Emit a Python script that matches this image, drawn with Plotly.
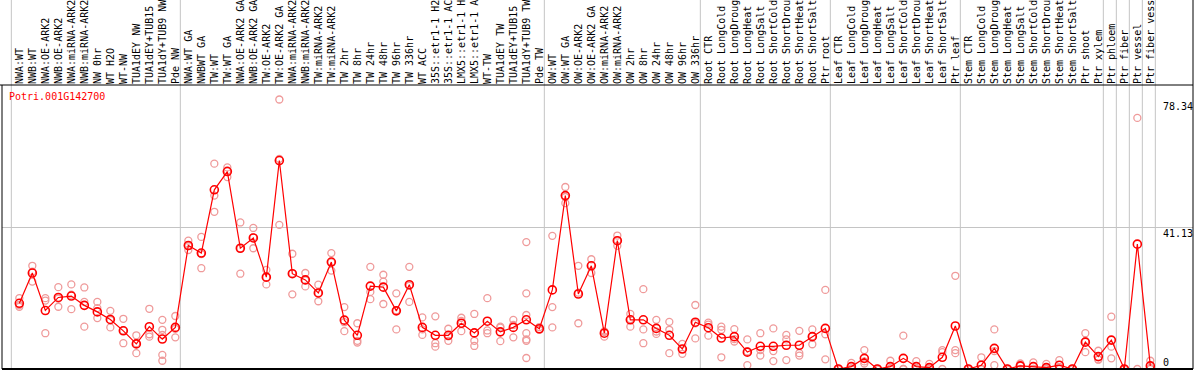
import plotly.graph_objects as go

labels = [
    "NWA:WT", "NWB:WT", "NWA:OE-ARK2", "NWB:OE-ARK2", "NWA:miRNA-ARK2", "NWB:miRNA-ARK2",
    "NW 0hr", "WT H2O", "WT-NW", "TUA1dEY NW", "TUA1dEY+TUB15 NW", "TUA1dY+TUB9 NW", "Pde NW",
    "NWA:WT GA", "NWBWT GA", "TW:WT", "TW:WT GA", "NWA:OE-ARK2 GA", "NWB:OE-ARK2 GA",
    "TW:OE-ARK2", "TW:OE-ARK2 GA", "NWA:miRNA-ARK2", "NWB:miRNA-ARK2", "TW:miRNA-ARK2",
    "TW:miRNA-ARK2", "TW 2hr", "TW 8hr", "TW 24hr", "TW 48hr", "TW 96hr", "TW 336hr",
    "WT ACC", "35S::etr1-1 H2O", "35S::etr1-1 ACC", "LMX5::etr1-1 H2O", "LMX5::etr1-1 ACC",
    "WT-TW", "TUA1dEY TW", "TUA1dEY+TUB15 TW", "TUA1dY+TUB9 TW", "Pde TW",
    "OW:WT", "OW:WT GA", "OW:OE-ARK2", "OW:OE-ARK2 GA", "OW:miRNA-ARK2", "OW:miRNA-ARK2",
    "OW 2hr", "OW 8hr", "OW 24hr", "OW 48hr", "OW 96hr", "OW 336hr",
    "Root CTR", "Root LongCold", "Root LongDrought", "Root LongHeat", "Root LongSalt",
    "Root ShortCold", "Root ShortDrought", "Root ShortHeat", "Root ShortSalt", "Ptr root",
    "Leaf CTR", "Leaf LongCold", "Leaf LongDrought", "Leaf LongHeat", "Leaf LongSalt",
    "Leaf ShortCold", "Leaf ShortDrought", "Leaf ShortHeat", "Leaf ShortSalt", "Ptr leaf",
    "Stem CTR", "Stem LongCold", "Stem LongDrought", "Stem LongHeat", "Stem LongSalt",
    "Stem ShortCold", "Stem ShortDrought", "Stem ShortHeat", "Stem ShortSalt", "Ptr shoot",
    "Ptr xylem", "Ptr phloem", "Ptr fiber", "Ptr vessel", "Ptr fiber vessel",
]

means = [
    19.1, 27.9, 17.0, 20.8, 21.2, 18.5, 16.6, 14.4, 11.1, 7.3, 12.3, 8.7, 12.1,
    35.9, 33.7, 52.1, 57.4, 35.1, 38.1, 26.7, 60.6, 27.7, 25.9, 22.1, 31.1, 14.2,
    9.8, 24.1, 23.8, 16.9, 24.5, 12.1, 9.8, 9.8, 13.3, 10.5, 13.9, 10.8, 12.1, 14.3, 11.7,
    23.0, 50.4, 21.8, 30.0, 10.4, 37.3, 14.3, 14.3, 11.8, 9.8, 5.8, 13.6,
    12.0, 9.0, 9.4, 4.9, 6.6, 6.6, 6.9, 6.9, 9.4, 11.8,
    0.0, 0.7, 3.1, 0.0, 0.7, 3.1, 0.7, 0.4, 3.4, 12.5,
    0.0, 1.1, 6.0, 0.0, 0.9, 0.7, 0.4, 1.1, 0.0, 7.8,
    3.6, 8.4, 0.0, 36.3, 0.9,
]

rep1 = [
    20.6, 30.0, 20.6, 23.8, 24.6, 23.7, 19.5, 16.9, 14.6, 9.8, 17.5, 14.3, 15.4,
    37.3, 38.4, 59.7, 58.6, 42.6, 41.0, 28.8, 78.34, 33.5, 27.9, 24.5, 33.7, 18.0,
    13.3, 29.7, 27.4, 22.0, 29.7, 15.0, 15.3, 11.7, 14.9, 16.0, 20.6, 12.3, 14.3, 36.9, 12.2,
    38.7, 52.9, 30.0, 31.9, 10.9, 38.8, 16.0, 23.2, 14.3, 13.7, 7.3, 18.6,
    13.5, 12.3, 11.6, 8.6, 10.4, 11.8, 9.9, 11.1, 11.5, 23.0,
    0.0, 1.8, 5.5, 0.0, 2.4, 9.7, 2.3, 1.5, 5.5, 27.1,
    0.0, 3.4, 11.5, 0.0, 1.6, 1.9, 1.5, 2.6, 0.0, 10.4,
    5.3, 15.2, 0.0, 73.0, 2.4,
]

rep2 = [
    18.6, 25.4, 19.9, 18.1, 17.4, 19.5, 17.7, 12.1, 7.5, 4.6, 10.1, 11.4, 9.2,
    34.6, 29.3, 50.4, 55.8, 27.7, 35.1, 24.6, 41.9, 21.7, 24.0, 19.7, 28.6, 11.0,
    8.2, 20.3, 25.4, 11.5, 19.5, 9.9, 7.5, 8.2, 11.0, 8.2, 11.2, 8.1, 9.2, 22.0, 11.4,
    18.0, 48.2, 13.3, 27.9, 9.4, 35.8, 12.3, 11.5, 10.9, 11.4, 4.4, 8.9,
    9.7, 11.4, 8.0, 1.1, 3.9, 5.2, 8.6, 4.6, 7.2, 10.1,
    0.0, 0.2, 1.6, 0.0, 0.0, 0.0, 0.0, 0.0, 4.9, 5.5,
    0.0, 0.0, 5.2, 0.0, 0.9, 0.0, 0.0, 0.5, 0.0, 4.9,
    2.8, 6.5, 0.0, 0.0, 0.3,
]

rep3 = [
    18.1, 28.3, 10.4, 20.5, 21.6, 12.3, 14.8, 14.2, 11.2, 7.5, 9.4, 9.9, 11.7,
    35.8, 33.4, 45.7, 57.7, 35.1, 38.3, 26.7, 61.1, 27.8, 25.8, 22.1, 31.0, 13.6,
    7.7, 22.4, 18.9, 17.1, 24.2, 11.5, 6.5, 9.5, 14.0, 6.7, 10.4, 12.0, 12.8, 15.7, 11.5,
    12.1, 50.0, 22.2, 30.2, 10.8, 37.3, 14.5, 7.5, 10.2, 4.6, 5.8, 13.3,
    12.9, 3.4, 8.7, 5.1, 5.5, 2.3, 2.6, 3.9, 9.5, 2.8,
    0.0, 0.0, 2.2, 0.0, 0.0, 0.0, 0.0, 0.0, 0.0, 4.6,
    0.0, 0.0, 1.1, 0.0, 0.0, 0.0, 0.0, 0.0, 0.0, 8.1,
    2.7, 3.1, 0.0, None, 0.0,
]

# additional replicates for samples with more than three measurements
extra_rep_index = [11, 11, 39, 39, 39, 39]
extra_rep_value = [4.1, 2.4, 10.4, 8.6, 8.2, 3.2]

group_ends = [-1, 12, 40, 52, 62, 72, 83, 84, 85, 86, 87]

y_ticks = [78.34, 41.13, 0]
title_text = "Potri.001G142700"

# ---------------- figure ----------------
W, H = 1194, 370
ML, MR, MT, MB = 2, 1, 85, 1
PW, PH = W - ML - MR, H - MT - MB
STEP = 13.0
FIRST_PX = 19.33
x_min = -(FIRST_PX - ML) / STEP
x_max = x_min + PW / STEP
Y_SCALE = 3.44
y_max = PH / Y_SCALE

xs = list(range(len(labels)))
mono = "DejaVu Sans Mono, Liberation Mono, monospace"
rep_color = "#ef9a9a"

fig = go.Figure()

rep_x, rep_y = [], []
for arr in (rep1, rep2, rep3):
    for i, v in enumerate(arr):
        if v is not None:
            rep_x.append(i)
            rep_y.append(v)
rep_x += extra_rep_index
rep_y += extra_rep_value

fig.add_trace(go.Scatter(
    x=rep_x, y=rep_y, mode="markers",
    marker=dict(symbol="circle-open", size=7, color=rep_color, line=dict(width=1.3, color=rep_color)),
    hoverinfo="skip", showlegend=False, cliponaxis=True,
))
fig.add_trace(go.Scatter(
    x=xs, y=means, mode="lines+markers",
    line=dict(color="#ff0000", width=1.2),
    marker=dict(symbol="circle-open", size=8, color="#ff0000", line=dict(width=1.6, color="#ff0000")),
    showlegend=False, cliponaxis=True,
))

shapes = []
top_paper = 1 + (MT + 2) / PH
for g in group_ends:
    gx = g + 0.5 - 1.5 / STEP
    shapes.append(dict(type="line", xref="x", yref="paper", x0=gx, x1=gx, y0=0, y1=top_paper,
                       line=dict(color="#c4c4c4", width=1), layer="below"))
# header separator line
shapes.append(dict(type="line", xref="paper", yref="paper", x0=-ML / PW, x1=1, y0=1, y1=1,
                   line=dict(color="black", width=1)))
# left border of plot
shapes.append(dict(type="line", xref="paper", yref="paper", x0=0, x1=0, y0=0, y1=1,
                   line=dict(color="black", width=1)))
# right border (full height)
shapes.append(dict(type="line", xref="paper", yref="paper", x0=1, x1=1, y0=0, y1=top_paper,
                   line=dict(color="black", width=1)))
# bottom border
shapes.append(dict(type="line", xref="paper", yref="paper", x0=0, x1=1, y0=0, y1=0,
                   line=dict(color="black", width=2)))

label_x_paper = (1161 - ML) / PW
y_shifts = {78.34: -7, 41.13: -5.5, 0: 7}
annotations = []
for t in y_ticks:
    annotations.append(dict(
        x=label_x_paper, xref="paper", y=t, yref="y", xanchor="left", yanchor="middle",
        yshift=y_shifts[t], text=("%g" % t), showarrow=False,
        font=dict(family=mono, size=10, color="black"),
    ))
annotations.append(dict(
    x=(7.3 - ML) / PW, xref="paper", y=1, yref="paper", xanchor="left", yanchor="middle",
    yshift=-11.7, text=title_text, showarrow=False,
    font=dict(family=mono, size=10, color="#ff0000"),
))

fig.update_layout(
    width=W, height=H,
    margin=dict(l=ML, r=MR, t=MT, b=MB, pad=0),
    paper_bgcolor="white", plot_bgcolor="white",
    showlegend=False,
    shapes=shapes,
    annotations=annotations,
    xaxis=dict(
        range=[x_min, x_max], side="top", tickmode="array", tickvals=xs, ticktext=labels,
        tickangle=-90, ticks="", showgrid=False, zeroline=False, showline=False,
        tickfont=dict(family=mono, size=10, color="black"), automargin=False, fixedrange=True,
    ),
    yaxis=dict(
        range=[0, y_max], tickmode="array", tickvals=[41.13], showticklabels=False,
        ticks="", showgrid=True, gridcolor="#c4c4c4", gridwidth=1, zeroline=False,
        showline=False, automargin=False, fixedrange=True,
    ),
)

fig.write_html(
    "out.html",
    config={"displayModeBar": False},
    post_script="document.body.style.margin='0';document.body.style.padding='0';"
                "document.body.style.overflow='hidden';",
)
